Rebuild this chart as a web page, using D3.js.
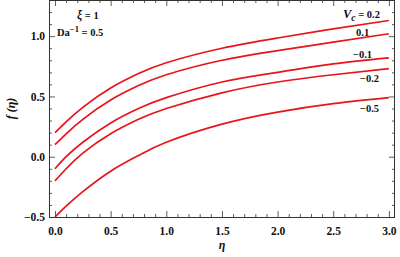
<!DOCTYPE html>
<html>
<head>
<meta charset="utf-8">
<script src="https://cdn.jsdelivr.net/npm/d3@7"></script>
<style>
  body { margin: 0; background: #fff; }
  svg text { font-family: "Liberation Serif", "DejaVu Serif", serif; font-weight: bold; fill: #111; }
</style>
</head>
<body>
<div id="chart"></div>
<script>
// values
const ETA = [0, 0.1, 0.25, 0.5, 0.75, 1.0, 1.5, 2.0, 2.5, 3.0];
const VC_LABELS = ["0.2", "0.1", "\u22120.1", "\u22120.2", "\u22120.5"];
const F_VC_02  = [0.20, 0.29, 0.41, 0.57, 0.69, 0.78, 0.90, 0.985, 1.06, 1.13];
const F_VC_01  = [0.10, 0.19, 0.31, 0.47, 0.59, 0.68, 0.80, 0.88, 0.95, 1.02];
const F_VC_M01 = [-0.10, 0.00, 0.12, 0.28, 0.40, 0.49, 0.62, 0.70, 0.77, 0.82];
const F_VC_M02 = [-0.20, -0.10, 0.03, 0.19, 0.31, 0.40, 0.53, 0.62, 0.68, 0.73];
const F_VC_M05 = [-0.50, -0.41, -0.29, -0.12, 0.01, 0.12, 0.27, 0.37, 0.44, 0.49];
const SERIES = [F_VC_02, F_VC_01, F_VC_M01, F_VC_M02, F_VC_M05];
const X_TICKS = [0, 0.5, 1.0, 1.5, 2.0, 2.5, 3.0];
const Y_TICKS = [-0.5, 0, 0.5, 1.0];

const WIDTH = 400, HEIGHT = 257;
const LEFT = 49, RIGHT = 395, TOP = 0, BOTTOM = 217;

const svg = d3.select("#chart").append("svg")
  .attr("width", WIDTH)
  .attr("height", HEIGHT);

const x = d3.scaleLinear().domain([-0.054, 3.055]).range([LEFT, RIGHT]);
const y = d3.scaleLinear().domain([-0.5, 1.3]).range([BOTTOM, TOP]);

// minor ticks every 0.1
const xMinor = d3.range(0, 31).map(i => i / 10).filter(v => Math.abs(v * 2 - Math.round(v * 2)) > 1e-6);
const yMinor = d3.range(-5, 13).map(i => i / 10).filter(v => Math.abs(v * 2 - Math.round(v * 2)) > 1e-6);

function fmt(v) {
  let s = d3.format(".1f")(v);
  return s.replace("-", "\u2212");
}

// frame axes (ticks point inward)
svg.append("g").attr("transform", `translate(0,${BOTTOM})`)
  .call(d3.axisBottom(x).tickValues(X_TICKS).tickSize(-6).tickPadding(10).tickFormat(fmt))
  .call(g => g.select(".domain").remove());
svg.append("g").attr("transform", `translate(0,${BOTTOM})`)
  .call(d3.axisBottom(x).tickValues(xMinor).tickSize(-3).tickFormat(""))
  .call(g => g.select(".domain").remove());
svg.append("g").attr("transform", `translate(0,${TOP})`)
  .call(d3.axisTop(x).tickValues(X_TICKS).tickSize(-6).tickFormat(""))
  .call(g => g.select(".domain").remove());
svg.append("g").attr("transform", `translate(0,${TOP})`)
  .call(d3.axisTop(x).tickValues(xMinor).tickSize(-3).tickFormat(""))
  .call(g => g.select(".domain").remove());

svg.append("g").attr("transform", `translate(${LEFT},0)`)
  .call(d3.axisLeft(y).tickValues(Y_TICKS).tickSize(-6).tickPadding(4).tickFormat(fmt))
  .call(g => g.select(".domain").remove());
svg.append("g").attr("transform", `translate(${LEFT},0)`)
  .call(d3.axisLeft(y).tickValues(yMinor).tickSize(-3).tickFormat(""))
  .call(g => g.select(".domain").remove());
svg.append("g").attr("transform", `translate(${RIGHT},0)`)
  .call(d3.axisRight(y).tickValues(Y_TICKS).tickSize(-6).tickFormat(""))
  .call(g => g.select(".domain").remove());
svg.append("g").attr("transform", `translate(${RIGHT},0)`)
  .call(d3.axisRight(y).tickValues(yMinor).tickSize(-3).tickFormat(""))
  .call(g => g.select(".domain").remove());

svg.selectAll(".tick line").attr("stroke", "#333").attr("stroke-width", 0.8);
svg.selectAll(".tick text")
  .attr("font-family", "Liberation Serif, serif")
  .attr("font-weight", "bold")
  .attr("font-size", 11.5)
  .attr("fill", "#111");

svg.append("rect")
  .attr("x", LEFT + 0.5).attr("y", TOP + 0.5)
  .attr("width", RIGHT - LEFT - 1).attr("height", BOTTOM - TOP)
  .attr("fill", "none").attr("stroke", "#333").attr("stroke-width", 1);

// curves
const line = d3.line()
  .x((d, i) => x(ETA[i]))
  .y(d => y(d))
  .curve(d3.curveNatural);

svg.append("g").selectAll("path")
  .data(SERIES)
  .join("path")
  .attr("d", line)
  .attr("fill", "none")
  .attr("stroke", "#e8141a")
  .attr("stroke-width", 1.7);

// curve labels
const labelPos = [[343, 18], [356, 36], [353, 58], [360, 82], [360, 112]];
labelPos.forEach((p, i) => {
  const t = svg.append("text").attr("x", p[0]).attr("y", p[1]).attr("font-size", 10.5);
  if (i === 0) {
    t.append("tspan").attr("font-style", "italic").attr("font-size", 12.5).text("V");
    t.append("tspan").attr("font-style", "italic").attr("dy", 3).attr("font-size", 9.5).text("c");
    t.append("tspan").attr("dy", -3).text(" = " + VC_LABELS[i]);
  } else {
    t.text(VC_LABELS[i]);
  }
});

// parameter labels
const xi = svg.append("text").attr("x", 77).attr("y", 19).attr("font-size", 10.5);
xi.append("tspan").attr("font-style", "italic").attr("font-size", 11.5).text("\u03be");
xi.append("tspan").text(" = 1");

const da = svg.append("text").attr("x", 57).attr("y", 36).attr("font-size", 10.5);
da.append("tspan").text("Da");
da.append("tspan").attr("dy", -4).attr("font-size", 8.5).text("\u22121");
da.append("tspan").attr("dy", 4).text(" = 0.5");

// axis titles
svg.append("text")
  .attr("transform", `translate(15,${(TOP + BOTTOM) / 2}) rotate(-90)`)
  .attr("text-anchor", "middle")
  .attr("font-size", 12)
  .attr("font-style", "italic")
  .text("f (\u03b7)");

svg.append("text")
  .attr("x", (LEFT + RIGHT) / 2)
  .attr("y", 249)
  .attr("text-anchor", "middle")
  .attr("font-size", 12)
  .attr("font-style", "italic")
  .attr("font-weight", "normal")
  .text("\u03b7");
</script>
</body>
</html>
